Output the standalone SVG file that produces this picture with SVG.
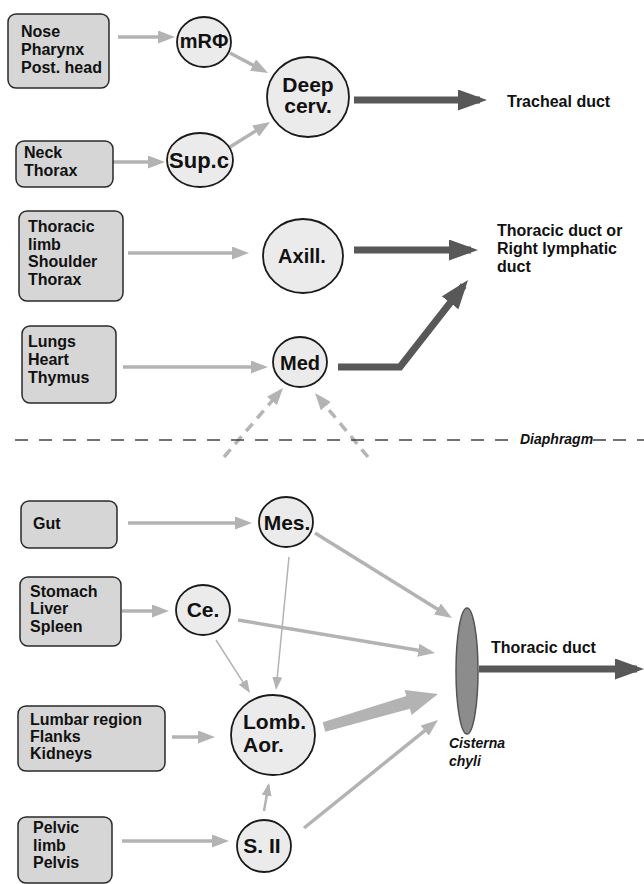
<svg xmlns="http://www.w3.org/2000/svg" width="644" height="884" viewBox="0 0 644 884">
<style>
.box{fill:#d6d6d6;stroke:#2a2a2a;stroke-width:1.5}
.nd{fill:#ebebeb;stroke:#1a1a1a;stroke-width:1.8}
.bt{font-family:"Liberation Sans",Arial,sans-serif;font-weight:bold;font-size:16px;fill:#111}
.ct{font-family:"Liberation Sans",Arial,sans-serif;font-weight:bold;fill:#111;text-anchor:middle}
.it{font-family:"Liberation Sans",Arial,sans-serif;font-weight:bold;font-style:italic;font-size:14px;fill:#111}
.la{stroke:#b3b3b3;stroke-width:3.5;fill:none;marker-end:url(#ah)}
.th{stroke:#b3b3b3;stroke-width:1.5;fill:none;marker-end:url(#ahs)}
.da{stroke:#585858;stroke-width:7;fill:none;marker-end:url(#ahd)}
.ds{stroke:#b5b5b5;stroke-width:3.5;fill:none;stroke-dasharray:10 7;marker-end:url(#ah)}
</style>
<defs>
<marker id="ah" markerUnits="userSpaceOnUse" markerWidth="17" markerHeight="13" refX="12" refY="6.5" orient="auto"><path d="M0,0 L17,6.5 L0,13 z" fill="#b3b3b3"/></marker>
<marker id="ahs" markerUnits="userSpaceOnUse" markerWidth="13" markerHeight="10" refX="11" refY="5" orient="auto"><path d="M0,0 L13,5 L0,10 z" fill="#b3b3b3"/></marker>
<marker id="ahd" markerUnits="userSpaceOnUse" markerWidth="29" markerHeight="21" refX="22" refY="10.5" orient="auto"><path d="M0,0 L29,10.5 L0,21 z" fill="#585858"/></marker>
</defs>
<rect width="644" height="884" fill="#fff"/>

<g id="connectors">
<line class="la" x1="118" y1="37" x2="170" y2="37"/>
<line class="la" x1="230" y1="53" x2="263.6" y2="70.7"/>
<line class="la" x1="113" y1="162" x2="160" y2="162"/>
<line class="la" x1="230" y1="147" x2="265.8" y2="124.7"/>
<line class="la" x1="128" y1="253" x2="244" y2="253"/>
<line class="la" x1="123" y1="367" x2="263" y2="367"/>
<line class="la" x1="128" y1="523" x2="247" y2="523"/>
<line class="la" x1="122" y1="611" x2="164" y2="611"/>
<line class="la" x1="238" y1="620" x2="430.1" y2="652.2"/>
<line class="la" x1="315" y1="533" x2="447.7" y2="615.4"/>
<line class="la" x1="172" y1="737" x2="210" y2="737"/>
<line class="la" x1="122" y1="841" x2="224" y2="841"/>
<line class="la" x1="304" y1="828" x2="434.1" y2="723.1"/>
<line class="th" x1="289" y1="557" x2="276.2" y2="688"/>
<line class="th" x1="216" y1="640" x2="248.9" y2="691.3"/>
<line class="th" style="stroke-width:2.5" x1="264" y1="811" x2="268.6" y2="785"/>
<line class="ds" x1="224" y1="457" x2="279.8" y2="391.8"/>
<line class="ds" x1="368" y1="457" x2="318.2" y2="396.9"/>
<polygon fill="#b3b3b3" points="325.35,731.8 409.9,708.7 411.6,714.9 438,694 404.6,689.9 406.3,696.1 322.65,722.2"/>
<line class="da" x1="354" y1="100" x2="480" y2="100"/>
<line class="da" x1="354" y1="250" x2="471" y2="250"/>
<polyline class="da" points="338,367 400,367 463.7,285.5"/>
<line class="da" x1="479" y1="669" x2="637" y2="669"/>
</g>

<g id="diaphragm">
<line x1="15" y1="440" x2="514" y2="440" stroke="#444" stroke-width="1.6" stroke-dasharray="13 11"/>
<text class="it" x="520" y="444">Diaphragm</text>
<line x1="593" y1="440" x2="606" y2="440" stroke="#444" stroke-width="1.6"/>
<line x1="613" y1="440" x2="644" y2="440" stroke="#444" stroke-width="1.6" stroke-dasharray="13 11"/>
</g>

<g id="n-nose"><rect class="box" x="8" y="14" width="101" height="74" rx="8"/><text class="bt" x="21" y="37">Nose</text><text class="bt" x="21" y="55">Pharynx</text><text class="bt" x="21" y="73">Post. head</text></g>
<g id="n-neck"><rect class="box" x="16" y="141" width="97" height="46" rx="8"/><text class="bt" x="24" y="158">Neck</text><text class="bt" x="24" y="176">Thorax</text></g>
<g id="n-thoracic"><rect class="box" x="19" y="211" width="104" height="90" rx="8"/><text class="bt" x="28" y="232">Thoracic</text><text class="bt" x="28" y="250">limb</text><text class="bt" x="28" y="267">Shoulder</text><text class="bt" x="28" y="285">Thorax</text></g>
<g id="n-lungs"><rect class="box" x="22" y="326" width="94" height="77" rx="8"/><text class="bt" x="28" y="347">Lungs</text><text class="bt" x="28" y="365">Heart</text><text class="bt" x="28" y="383">Thymus</text></g>
<g id="n-gut"><rect class="box" x="21" y="501" width="96" height="47" rx="8"/><text class="bt" x="33" y="529">Gut</text></g>
<g id="n-stomach"><rect class="box" x="20" y="577" width="101" height="69" rx="8"/><text class="bt" x="30" y="597">Stomach</text><text class="bt" x="30" y="614">Liver</text><text class="bt" x="30" y="632">Spleen</text></g>
<g id="n-lumbar"><rect class="box" x="18" y="706" width="147" height="65" rx="8"/><text class="bt" x="30" y="725">Lumbar region</text><text class="bt" x="30" y="742">Flanks</text><text class="bt" x="30" y="759">Kidneys</text></g>
<g id="n-pelvic"><rect class="box" x="18" y="817" width="94" height="66" rx="8"/><text class="bt" x="33" y="833">Pelvic</text><text class="bt" x="33" y="851">limb</text><text class="bt" x="33" y="868">Pelvis</text></g>

<g id="n-mrphi"><ellipse class="nd" cx="204" cy="42" rx="27" ry="25"/><text class="ct" x="204" y="48" font-size="20">mRΦ</text></g>
<g id="n-deep"><ellipse class="nd" cx="308" cy="97" rx="41" ry="40"/><text class="ct" x="308" y="92" font-size="21">Deep</text><text class="ct" x="308" y="113" font-size="21">cerv.</text></g>
<g id="n-supc"><ellipse class="nd" cx="200" cy="160" rx="33" ry="27"/><text class="ct" x="199" y="168" font-size="22">Sup.c</text></g>
<g id="n-axill"><ellipse class="nd" cx="303" cy="256" rx="40" ry="37"/><text class="ct" x="302" y="263" font-size="20">Axill.</text></g>
<g id="n-med"><ellipse class="nd" cx="300" cy="362" rx="27" ry="25"/><text class="ct" x="300" y="370" font-size="20">Med</text></g>
<g id="n-mes"><ellipse class="nd" cx="286" cy="522" rx="27" ry="25"/><text class="ct" x="287" y="530" font-size="21">Mes.</text></g>
<g id="n-ce"><ellipse class="nd" cx="203" cy="610" rx="27" ry="25"/><text class="ct" x="203" y="617" font-size="21">Ce.</text></g>
<g id="n-lomb"><ellipse class="nd" cx="273" cy="735" rx="42" ry="40"/><text class="bt" x="243" y="729" style="font-size:21px">Lomb.</text><text class="bt" x="243" y="752" style="font-size:21px">Aor.</text></g>
<g id="n-s2"><ellipse class="nd" cx="264" cy="846" rx="27" ry="26"/><text class="ct" x="262" y="853" font-size="21">S. II</text></g>
<g id="n-cisterna"><ellipse cx="467" cy="671" rx="11" ry="63" fill="#8c8c8c" stroke="#555" stroke-width="1.5"/><text class="it" x="449" y="748">Cisterna</text><text class="it" x="449" y="766">chyli</text></g>

<g id="labels">
<text class="bt" x="507" y="107">Tracheal duct</text>
<text class="bt" x="497" y="236">Thoracic duct or</text>
<text class="bt" x="497" y="254">Right lymphatic</text>
<text class="bt" x="497" y="272">duct</text>
<text class="bt" x="491" y="653">Thoracic duct</text>
</g>
</svg>
